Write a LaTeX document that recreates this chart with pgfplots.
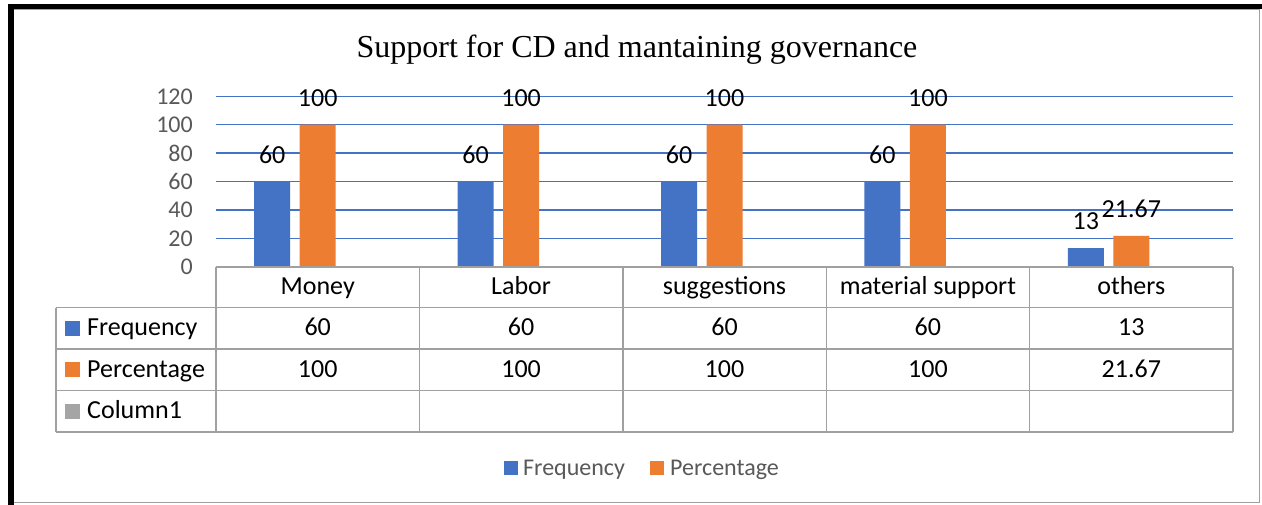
\documentclass[border=0pt]{standalone}
\usepackage{fontspec}
\setmainfont{Carlito}
\newfontfamily\titlefont{Liberation Serif}
\usepackage{pgfplots}
\pgfplotsset{compat=1.18}
\definecolor{xblue}{HTML}{4472C4}
\definecolor{xorange}{HTML}{ED7D31}
\definecolor{xgray}{HTML}{A5A5A5}
\definecolor{xtext}{HTML}{595959}
\definecolor{xline}{HTML}{A0A0A0}
\newcommand{\fs}[1]{\fontsize{#1}{#1}\selectfont}
\begin{document}
\begin{tikzpicture}
\fill[white] (0pt,0pt) rectangle (1262pt,-504pt);
\path[use as bounding box] (0pt,0pt) rectangle (1262pt,-504pt);
\begin{axis}[
  at={(216pt,-266.7pt)}, anchor=south west,
  scale only axis, width=1017pt, height=170.4pt,
  xmin=-0.5, xmax=4.5, ymin=0, ymax=120,
  ybar, bar width=36pt,
  xtick=\empty, ytick={0,20,...,120},
  ymajorgrids, grid style={color=xblue, line width=1.5pt},
  axis line style={draw=none}, major tick length=0pt,
  /pgf/number format/assume math mode=true,
  yticklabel style={font=\fs{24}, color=xtext, inner sep=0pt, anchor=east, xshift=-23pt},
  nodes near coords,
  nodes near coords style={font=\fs{26}, color=black, anchor=south, inner sep=0pt, yshift=18pt},
  clip=false,
]
\addplot[fill=xblue, draw=none, bar shift=-45.5pt] coordinates {(0,60) (1,60) (2,60) (3,60) (4,13)};
\addplot[fill=xorange, draw=none, bar shift=0pt] coordinates {(0,100) (1,100) (2,100) (3,100) (4,21.67)};
\end{axis}
\begin{scope}[x=1pt,y=-1pt]
% frame
\draw[xline, line width=1pt] (12,9.5) rectangle (1259.5,502.5);
\draw[black, line width=5.5pt] (10.8,506) -- (10.8,6.3) -- (1264,6.3);
% title
\node[anchor=base, font=\titlefont\fs{32}, inner sep=0pt] at (637,57) {Support for CD and mantaining governance};
% table
\begin{scope}[draw=xline, line width=1.4pt]
\draw (216,267) -- (1233,267);
\foreach \yy in {307.7,349,390.7,432} \draw (56,\yy) -- (1233,\yy);
\draw (56,307.7) -- (56,432);
\foreach \xx in {216,419.4,622.8,826.2,1029.6,1233} \draw (\xx,267) -- (\xx,432);
\end{scope}
\begin{scope}[every node/.style={anchor=base, inner sep=0pt, font=\fs{26}}]
\node at (317.7,294.5) {Money};
\node at (521.1,294.5) {Labor};
\node at (724.5,294.5) {suggestions};
\node at (927.9,294.5) {material support};
\node at (1131.3,294.5) {others};
\foreach \xx/\a/\b in {317.7/60/100,521.1/60/100,724.5/60/100,927.9/60/100,1131.3/13/21.67}{
  \node at (\xx,335.5) {\a};
  \node at (\xx,377) {\b};
}
\fill[xblue] (65,320.5) rectangle (80,335.5);
\node[anchor=base west] at (87,335.5) {Frequency};
\fill[xorange] (65,362) rectangle (80,377);
\node[anchor=base west] at (87,377) {Percentage};
\fill[xgray] (65,403.5) rectangle (80,418.5);
\node[anchor=base west] at (87,418.5) {Column1};
\end{scope}
% legend
\fill[xblue] (504,461) rectangle (518,475);
\node[anchor=base west, inner sep=0pt, font=\fs{24}, color=xtext] at (523,475) {Frequency};
\fill[xorange] (650,461) rectangle (664,475);
\node[anchor=base west, inner sep=0pt, font=\fs{24}, color=xtext] at (670,475) {Percentage};
\end{scope}
\end{tikzpicture}
\end{document}
